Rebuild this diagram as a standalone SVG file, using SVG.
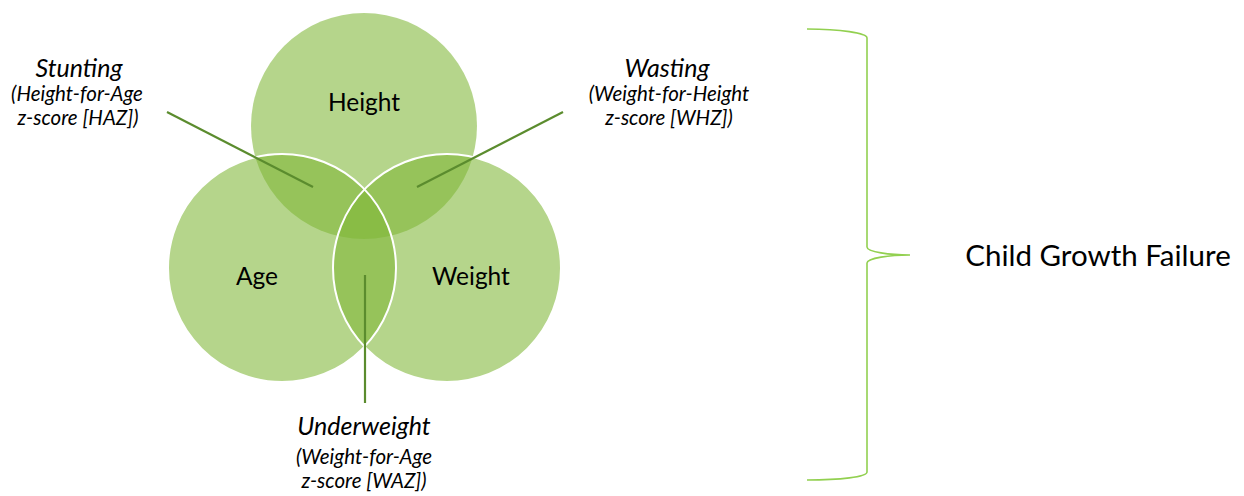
<svg xmlns="http://www.w3.org/2000/svg" width="1244" height="496" viewBox="0 0 1244 496">
<style>
.c{fill:#7FB737;fill-opacity:0.58}
.o{fill:none;stroke:#ffffff;stroke-width:2}
.t{font-family:Lato,"Open Sans","Liberation Sans",sans-serif;fill:#000;text-anchor:middle}
.lab{font-size:24.5px}
.it{font-style:italic}
.h1{font-size:25px}
.h2{font-size:20.5px}
.ln{stroke:#5B8C2E;stroke-width:2.2;fill:none}
.br{stroke:#92D050;stroke-width:1.6;fill:none}
</style>
<rect width="1244" height="496" fill="#ffffff"/>
<g id="height"><circle class="c" cx="364" cy="126" r="113"/><text class="t lab" x="364" y="111">Height</text></g>
<g id="age"><circle class="c" cx="282" cy="268" r="114"/><text class="t lab" x="257" y="285">Age</text></g>
<g id="weight"><circle class="c" cx="447" cy="268" r="114"/><text class="t lab" x="471" y="285">Weight</text></g>
<g id="outlines"><circle class="o" cx="282" cy="268" r="114"/><circle class="o" cx="447" cy="268" r="114"/></g>
<g id="connectors">
<line class="ln" x1="167" y1="112" x2="313" y2="187"/>
<line class="ln" x1="563" y1="112" x2="417" y2="187"/>
<line class="ln" x1="365" y1="275" x2="365" y2="403"/>
<path class="br" d="M807 29 C840 29 867 33 867 38 L867 247 C867 252 890 255 910 255 C890 255 867 258 867 263 L867 472 C867 477 840 480 807 480"/>
</g>
<g id="stunting"><text class="t it h1" x="79" y="77">Stunting</text><text class="t it h2" x="77" y="101">(Height-for-Age</text><text class="t it h2" x="78" y="125">z-score [HAZ])</text></g>
<g id="wasting"><text class="t it h1" x="667" y="77">Wasting</text><text class="t it h2" x="669" y="101">(Weight-for-Height</text><text class="t it h2" x="669" y="125">z-score [WHZ])</text></g>
<g id="underweight"><text class="t it h1" x="364" y="435">Underweight</text><text class="t it h2" x="364" y="464">(Weight-for-Age</text><text class="t it h2" x="364" y="488">z-score [WAZ])</text></g>
<g id="cgf"><text class="t" style="font-size:29.5px" x="1098" y="266">Child Growth Failure</text></g>
</svg>
